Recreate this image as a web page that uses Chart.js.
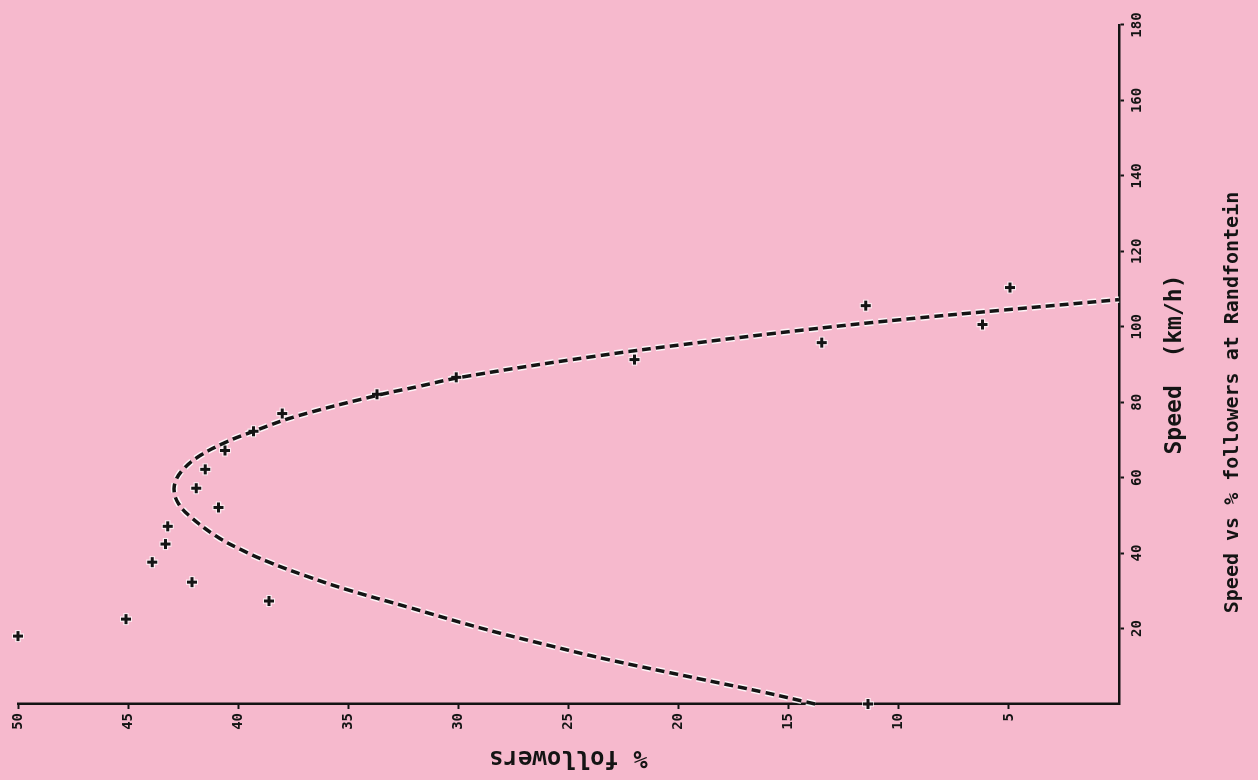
<!DOCTYPE html>
<html>
<head>
<meta charset="utf-8">
<title>Speed vs % followers at Randfontein</title>
<script src="https://cdn.jsdelivr.net/npm/chart.js@4.4.0/dist/chart.umd.min.js"></script>
<style>
  html, body { margin: 0; padding: 0; background: #f6b9cd; overflow: hidden; }
  /* the scanned plot sits on its side, so the chart is drawn upright and turned */
  #wrap {
    position: absolute; left: 0; top: 0;
    width: 780px; height: 1258px;
    transform-origin: 0 0;
    transform: translateY(780px) rotate(-90deg);
  }
</style>
</head>
<body>
<div id="wrap"><canvas id="chart" width="780" height="1258"></canvas></div>
<script>
// observed points: speed (km/h) and % followers
const obsSpeed     = [0, 18, 22.5, 27.3, 32.3, 37.6, 42.4, 47.1, 52.1, 57.2, 62.2, 67.2, 72.3, 77.0, 82.1, 86.6, 91.3, 95.8, 100.6, 105.6, 110.4];
const obsFollowers = [11.4, 50.0, 45.1, 38.6, 42.1, 43.9, 43.3, 43.2, 40.9, 41.9, 41.5, 40.6, 39.3, 38.0, 33.7, 30.1, 22.0, 13.5, 6.2, 11.5, 4.95];

// fitted curve
const fitSpeed     = [0, 3.2, 6.6, 11.9, 15.4, 20.0, 25.7, 30.4, 33.9, 37.6, 41.0, 44.5, 49.8, 53.0, 56.0, 59.0, 62.2, 65.6, 69.3, 72.3, 76.2, 81.8, 84.2, 86.6, 92.1, 95.8, 99.3, 101.9, 104.3, 107.2];
const fitFollowers = [13.8, 16.2, 19.0, 23.3, 25.8, 28.9, 32.3, 35.1, 36.9, 38.6, 39.9, 41.0, 42.2, 42.7, 42.9, 42.85, 42.5, 41.8, 40.6, 39.3, 37.4, 33.7, 31.8, 29.9, 23.9, 19.1, 14.1, 9.9, 5.5, 0];

const speedTicks    = [20, 40, 60, 80, 100, 120, 140, 160, 180];
const followerTicks = [5, 10, 15, 20, 25, 30, 35, 40, 45, 50];

const ink = '#141414';
const mono = "'DejaVu Sans Mono', monospace";

function pairs(xs, ys) {
    return xs.map((x, i) => ({ x: x, y: ys[i] }));
}

const ctx = document.getElementById('chart').getContext('2d');

new Chart(ctx, {
    type: 'scatter',
    data: {
        datasets: [{
            label: 'observed',
            data: pairs(obsSpeed, obsFollowers),
            pointStyle: 'cross',
            pointRadius: 5,
            pointBorderWidth: 3,
            borderColor: ink,
            backgroundColor: ink,
            clip: false
        }, {
            label: 'fit',
            data: pairs(fitSpeed, fitFollowers),
            showLine: true,
            pointRadius: 0,
            borderColor: ink,
            borderWidth: 3.5,
            borderDash: [9, 5],
            tension: 0.4,
            clip: false
        }, {
            // pale halo under the dashes, as on the scan
            label: 'fit halo',
            data: pairs(fitSpeed, fitFollowers),
            showLine: true,
            pointRadius: 0,
            borderColor: 'rgba(255,255,255,0.85)',
            borderWidth: 6.5,
            borderDash: [9, 5],
            tension: 0.4,
            clip: false
        }, {
            label: 'point halo',
            data: pairs(obsSpeed, obsFollowers),
            pointStyle: 'cross',
            pointRadius: 6,
            pointBorderWidth: 5.5,
            borderColor: 'rgba(255,255,255,0.7)',
            backgroundColor: 'rgba(255,255,255,0.7)',
            clip: false
        }]
    },
    options: {
        responsive: false,
        animation: false,
        devicePixelRatio: 1,
        layout: { padding: { top: 18, right: 25, left: 0, bottom: 0 } },
        plugins: {
            legend: { display: false },
            tooltip: { enabled: false },
            title: {
                display: true,
                position: 'bottom',
                text: 'Speed vs % followers at Randfontein',
                color: ink,
                font: { family: mono, size: 20, weight: 'bold' },
                padding: { top: 4, bottom: 13 }
            }
        },
        scales: {
            x: {
                type: 'linear',
                min: 0,
                max: 180,
                afterBuildTicks: s => { s.ticks = speedTicks.map(v => ({ value: v })); },
                afterFit: s => { s.height = 98; },
                grid: { drawOnChartArea: false, drawTicks: true, tickLength: 5, tickWidth: 2, tickColor: ink },
                border: { display: true, color: ink, width: 2.5 },
                ticks: {
                    color: ink,
                    font: { family: mono, size: 14, weight: 'bold' },
                    padding: 5,
                    maxRotation: 0,
                    autoSkip: false
                },
                title: {
                    display: true,
                    text: 'Speed  (km/h)',
                    color: ink,
                    font: { family: mono, size: 23, weight: 'bold' },
                    padding: { top: 0, bottom: 28 }
                }
            },
            y: {
                type: 'linear',
                min: 0,
                max: 50,
                afterBuildTicks: s => { s.ticks = followerTicks.map(v => ({ value: v })); },
                afterFit: s => { s.width = 76; },
                grid: { drawOnChartArea: false, drawTicks: true, tickLength: 5, tickWidth: 2, tickColor: ink },
                border: { display: true, color: ink, width: 2.5 },
                ticks: {
                    color: ink,
                    font: { family: mono, size: 14, weight: 'bold' },
                    padding: 4,
                    autoSkip: false
                },
                title: {
                    display: true,
                    text: '% followers',
                    color: ink,
                    font: { family: mono, size: 24, weight: 'bold' },
                    padding: { top: 8, bottom: 0 }
                }
            }
        }
    }
});
</script>
</body>
</html>
